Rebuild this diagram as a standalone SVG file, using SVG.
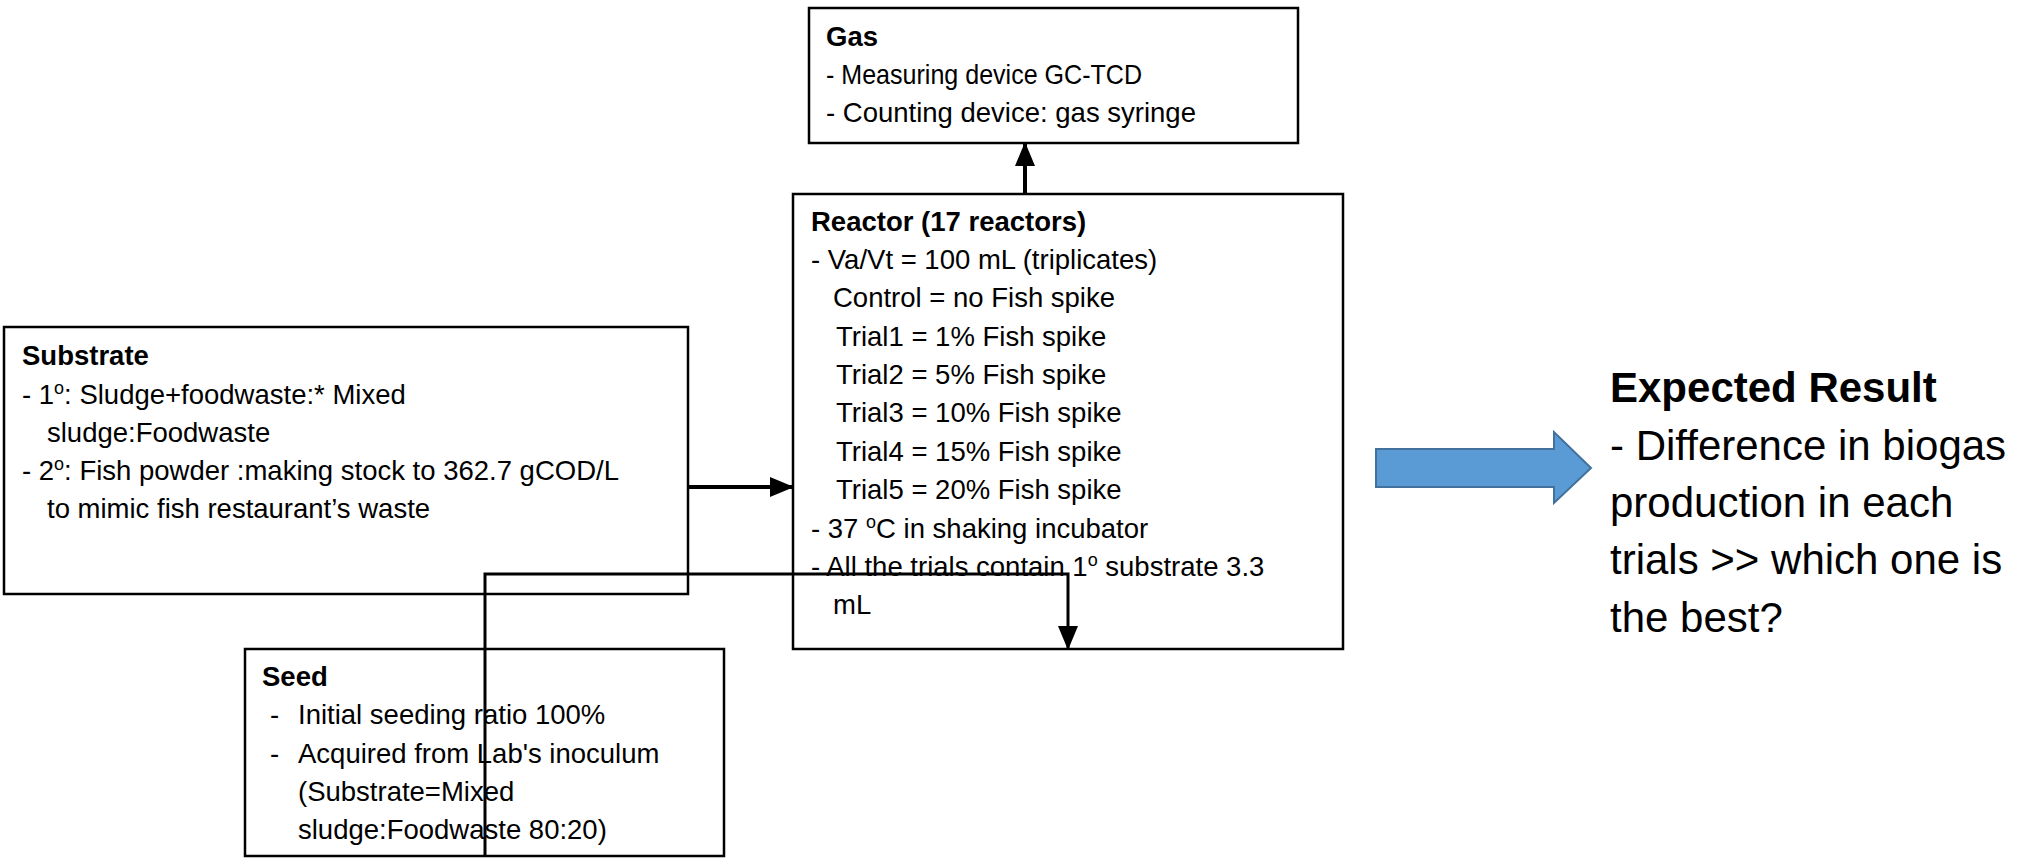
<svg xmlns="http://www.w3.org/2000/svg" width="2042" height="858" viewBox="0 0 2042 858">
<defs>
<style>
.box{fill:#fff;stroke:#000;stroke-width:2.5}
.t{font-family:"Liberation Sans",Arial,sans-serif;font-size:27.5px;fill:#000}
.b{font-weight:bold}
.big{font-family:"Liberation Sans",Arial,sans-serif;font-size:42px;fill:#000}
.sup{font-size:18px}
.con{fill:none;stroke:#000}
</style>
<marker id="ah" markerUnits="userSpaceOnUse" markerWidth="24" markerHeight="20" refX="22" refY="10" orient="auto">
<path d="M0,0 L24,10 L0,20 Z" fill="#000"/>
</marker>
</defs>
<rect width="2042" height="858" fill="#fff"/>

<g id="gas">
<rect class="box" x="809" y="8" width="489" height="135"/>
<text class="t b" x="826" y="46">Gas</text>
<text class="t" x="826" y="84" textLength="316" lengthAdjust="spacingAndGlyphs">- Measuring device GC-TCD</text>
<text class="t" x="826" y="122">- Counting device: gas syringe</text>
</g>

<g id="reactor">
<rect class="box" x="793" y="194" width="550" height="455"/>
<text class="t b" x="811" y="231">Reactor (17 reactors)</text>
<text class="t" x="811" y="269">- Va/Vt = 100 mL (triplicates)</text>
<text class="t" x="833" y="307">Control = no Fish spike</text>
<text class="t" x="836" y="346">Trial1 = 1% Fish spike</text>
<text class="t" x="836" y="384">Trial2 = 5% Fish spike</text>
<text class="t" x="836" y="422">Trial3 = 10% Fish spike</text>
<text class="t" x="836" y="461">Trial4 = 15% Fish spike</text>
<text class="t" x="836" y="499">Trial5 = 20% Fish spike</text>
<text class="t" x="811" y="538">- 37 <tspan class="sup" dy="-10">o</tspan><tspan dy="10">C in shaking incubator</tspan></text>
<text class="t" x="811" y="576">- All the trials contain 1<tspan class="sup" dy="-10">o</tspan><tspan dy="10"> substrate 3.3</tspan></text>
<text class="t" x="833" y="614">mL</text>
</g>

<g id="substrate">
<rect class="box" x="4" y="327" width="684" height="267"/>
<text class="t b" x="22" y="365">Substrate</text>
<text class="t" x="22" y="404">- 1<tspan class="sup" dy="-10">o</tspan><tspan dy="10">: Sludge+foodwaste:* Mixed</tspan></text>
<text class="t" x="47" y="442">sludge:Foodwaste</text>
<text class="t" x="22" y="480">- 2<tspan class="sup" dy="-10">o</tspan><tspan dy="10">: Fish powder :making stock to 362.7 gCOD/L</tspan></text>
<text class="t" x="47" y="518">to mimic fish restaurant’s waste</text>
</g>

<g id="seed">
<rect class="box" x="245" y="649" width="479" height="207"/>
<text class="t b" x="262" y="686">Seed</text>
<text class="t" x="270" y="724">-</text>
<text class="t" x="298" y="724">Initial seeding ratio 100%</text>
<text class="t" x="270" y="763">-</text>
<text class="t" x="298" y="763">Acquired from Lab's inoculum</text>
<text class="t" x="298" y="801">(Substrate=Mixed</text>
<text class="t" x="298" y="839">sludge:Foodwaste 80:20)</text>
</g>

<g id="expected">
<path d="M1376,449 L1554,449 L1554,432 L1591,468 L1554,503 L1554,487 L1376,487 Z" fill="#5B9BD5" stroke="#41719C" stroke-width="2"/>
<text class="big b" x="1610" y="402">Expected Result</text>
<text class="big" x="1610" y="460">- Difference in biogas</text>
<text class="big" x="1610" y="517">production in each</text>
<text class="big" x="1610" y="574">trials &gt;&gt; which one is</text>
<text class="big" x="1610" y="632">the best?</text>
</g>

<g id="connectors">
<path class="con" d="M688,487 L792,487" stroke-width="4" marker-end="url(#ah)"/>
<path class="con" d="M1025,194 L1025,144" stroke-width="4" marker-end="url(#ah)"/>
<path class="con" d="M485,856 L485,574 L1068,574 L1068,648" stroke-width="3" marker-end="url(#ah)"/>
</g>
</svg>
